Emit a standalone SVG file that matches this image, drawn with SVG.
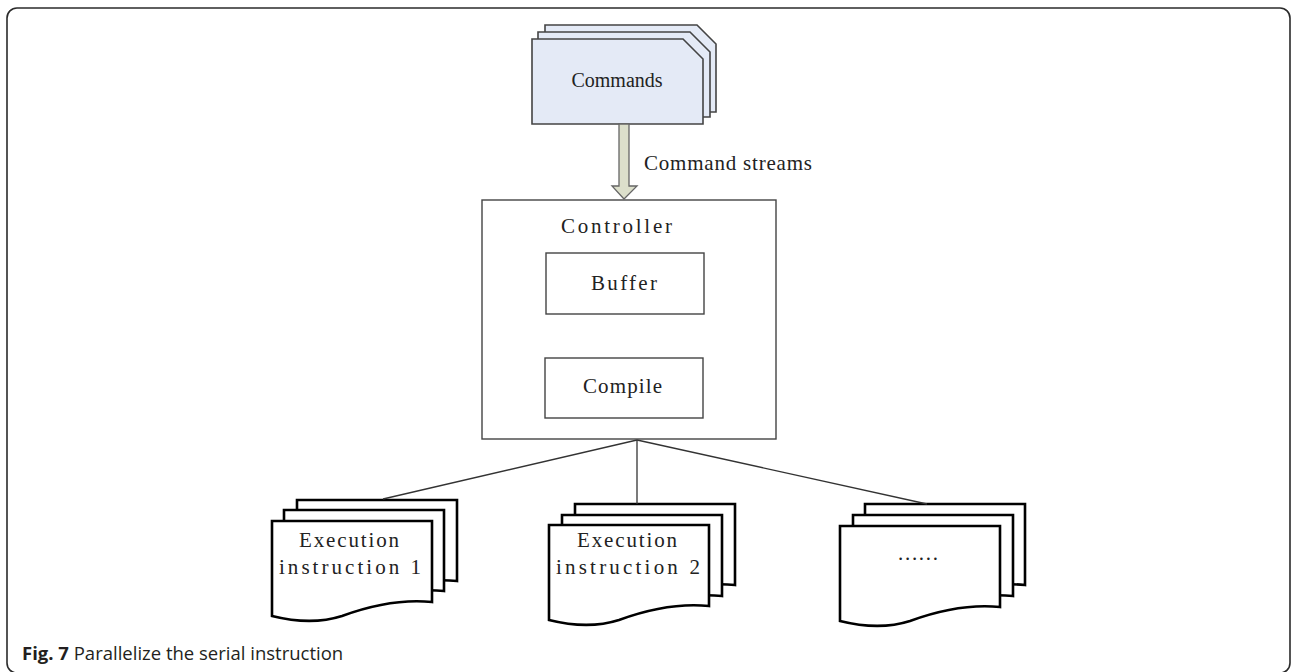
<svg xmlns="http://www.w3.org/2000/svg" width="1292" height="672" viewBox="0 0 1292 672">
  <style>
    .frame { fill: #ffffff; stroke: #2b2b2b; stroke-width: 1.6; }
    .cmd { fill: #e4eaf6; stroke: #444; stroke-width: 1.6; }
    .box { fill: #ffffff; stroke: #444; stroke-width: 1.4; }
    .doc { fill: #ffffff; stroke: #000; stroke-width: 2.6; stroke-linejoin: miter; }
    .link { fill: none; stroke: #333; stroke-width: 1.3; }
    .label { font-family: "Liberation Serif", "Times New Roman", serif; font-size: 21px; fill: #222; text-anchor: middle; }
    .serif { font-family: "Liberation Serif", "Times New Roman", serif; font-size: 20px; fill: #222; text-anchor: middle; }
    .caption { font-family: "Open Sans", "Noto Sans", sans-serif; font-size: 18.5px; fill: #231f20; }
  </style>
  <defs>
    <!-- document card with wavy bottom, origin at top-left, 160 wide -->
    <path id="docShape" d="M0,0 H160 V81 C130,78 100,84 70,95 C45,103 20,100 0,95 Z"/>
  </defs>

  <rect class="frame" x="7" y="8" width="1283" height="665" rx="10" ry="10"/>

  <!-- Commands stack -->
  <g id="commands">
    <path class="cmd" d="M545,25 H697 L716,44 V112 H545 Z"/>
    <path class="cmd" d="M538,32 H690 L710,52 V117 H538 Z"/>
    <path class="cmd" d="M532,39 H683 L703,59 V124 H532 Z"/>
    <text class="serif" x="617" y="87">Commands</text>
  </g>

  <!-- Controller with inner blocks -->
  <g id="controller">
    <rect class="box" x="482" y="200" width="294" height="239"/>
    <text class="label" x="616.5" y="233" textLength="111" lengthAdjust="spacing">Controller</text>
  </g>
  <g id="buffer">
    <rect class="box" x="546" y="253" width="158" height="61"/>
    <text class="label" x="624" y="290" textLength="66" lengthAdjust="spacing">Buffer</text>
  </g>
  <g id="compile">
    <rect class="box" x="545" y="358" width="158" height="60"/>
    <text class="label" x="622.5" y="393" textLength="79" lengthAdjust="spacing">Compile</text>
  </g>

  <!-- Execution stacks -->
  <g id="exec1">
    <use href="#docShape" class="doc" x="297" y="500"/>
    <use href="#docShape" class="doc" x="284" y="510"/>
    <use href="#docShape" class="doc" x="272" y="521"/>
    <text class="label" x="349" y="547" textLength="100" lengthAdjust="spacing">Execution</text>
    <text class="label" x="350" y="574" textLength="142" lengthAdjust="spacing">instruction 1</text>
  </g>
  <g id="exec2">
    <use href="#docShape" class="doc" x="575" y="504"/>
    <use href="#docShape" class="doc" x="562" y="515"/>
    <use href="#docShape" class="doc" x="549" y="525"/>
    <text class="label" x="627" y="547" textLength="100" lengthAdjust="spacing">Execution</text>
    <text class="label" x="628" y="574" textLength="144" lengthAdjust="spacing">instruction 2</text>
  </g>
  <g id="exec3">
    <use href="#docShape" class="doc" x="865" y="504"/>
    <use href="#docShape" class="doc" x="853" y="515"/>
    <use href="#docShape" class="doc" x="840" y="526"/>
    <text class="label" x="918" y="560" textLength="40" lengthAdjust="spacing">......</text>
  </g>

  <!-- Connectors -->
  <g id="connectors">
    <path d="M619,124 V186 H612 L624,199 L637,186 H629 V124 Z" fill="#dcdfcb" stroke="#666" stroke-width="1.3"/>
    <text class="label" x="728" y="170" textLength="168" lengthAdjust="spacing">Command streams</text>
    <line class="link" x1="637" y1="440" x2="383" y2="499"/>
    <line class="link" x1="637" y1="440" x2="637" y2="504"/>
    <line class="link" x1="637" y1="440" x2="927" y2="504"/>
  </g>

  <text class="caption" x="22" y="660"><tspan font-weight="bold">Fig. 7</tspan> Parallelize the serial instruction</text>
</svg>
